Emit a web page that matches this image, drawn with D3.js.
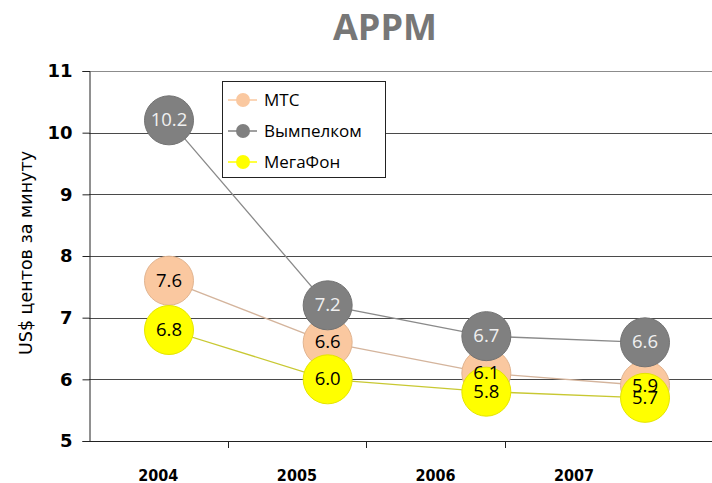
<!DOCTYPE html>
<html>
<head>
<meta charset="utf-8">
<script src="https://cdn.jsdelivr.net/npm/d3@7"></script>
<style>
  body { margin: 0; background: #fff; }
  svg { display: block; }
</style>
</head>
<body>
<div id="chart"></div>
<script>
// chart data
var years = ["2004", "2005", "2006", "2007"];
var seriesNames = ["МТС", "Вымпелком", "МегаФон"];
var mtsValues = [7.6, 6.6, 6.1, 5.9];
var vimpelValues = [10.2, 7.2, 6.7, 6.6];
var megafonValues = [6.8, 6.0, 5.8, 5.7];
var yTicks = [5, 6, 7, 8, 9, 10, 11];

var fills = ["#fac8a0", "#808080", "#ffff00"];
var strokes = ["#d4b49c", "#8a8a8a", "#c8c832"];
var labelColors = ["#000", "#f0f0f0", "#000"];

var w = 712, h = 483;
var plotLeft = 89, plotRight = 712, plotTop = 71, plotBottom = 441;

var svg = d3.select("#chart")
            .append("svg")
            .attr("width", w)
            .attr("height", h);

var series = [mtsValues, vimpelValues, megafonValues].map(function(vals, i) {
  return { name: seriesNames[i], values: vals, idx: i };
});

var y = d3.scaleLinear().domain([5, 11]).range([plotBottom, plotTop]);
// category bands for axis labels / ticks
var xBand = d3.scaleBand().domain(years).range([plotLeft, plotLeft + 4 * 138.6]);
// markers sit shifted to the right of the category labels
var xPt = d3.scalePoint().domain(years).range([169, 645]);

// title
svg.append("text")
   .attr("x", 385).attr("y", 40)
   .attr("text-anchor", "middle")
   .attr("font-family", "'Open Sans', sans-serif")
   .attr("font-weight", "bold")
   .attr("font-size", "36px")
   .attr("fill", "#777")
   .text("APPM");

// gridlines
svg.selectAll("line.grid")
   .data(yTicks.slice(1))
   .enter()
   .append("line")
   .attr("class", "grid")
   .attr("x1", plotLeft).attr("x2", plotRight)
   .attr("y1", function(d) { return Math.round(y(d)) + 0.5; })
   .attr("y2", function(d) { return Math.round(y(d)) + 0.5; })
   .attr("stroke", function(d) { return d === 11 ? "#8c8c8c" : "#4a4a4a"; })
   .attr("stroke-width", 1);

// y axis
var yAxis = d3.axisLeft(y).tickValues(yTicks).tickSize(7).tickPadding(10).tickFormat(d3.format("d"));
var gy = svg.append("g").attr("transform", "translate(" + (plotLeft + 0.5) + ",0)").call(yAxis);
gy.select(".domain").attr("stroke", "#222");
gy.selectAll(".tick line").attr("stroke", "#222");
gy.selectAll("text")
  .attr("font-family", "'DejaVu Sans', sans-serif")
  .attr("font-weight", "bold")
  .attr("font-size", "18px")
  .attr("fill", "#000");

// x axis
var xAxis = d3.axisBottom(xBand).tickSize(0).tickPadding(28);
var gx = svg.append("g").attr("transform", "translate(0," + (plotBottom + 0.5) + ")").call(xAxis);
gx.select(".domain").remove();
gx.selectAll("text")
  .attr("font-family", "'DejaVu Sans Condensed', 'DejaVu Sans', sans-serif")
  .attr("font-weight", "bold")
  .attr("font-size", "16px")
  .attr("fill", "#000");
svg.append("line")
   .attr("x1", plotLeft).attr("x2", plotRight)
   .attr("y1", plotBottom + 0.5).attr("y2", plotBottom + 0.5)
   .attr("stroke", "#222");
svg.selectAll("line.xtick")
   .data(years.slice(1))
   .enter()
   .append("line")
   .attr("class", "xtick")
   .attr("x1", function(d) { return Math.round(xBand(d)) + 0.5; })
   .attr("x2", function(d) { return Math.round(xBand(d)) + 0.5; })
   .attr("y1", plotBottom).attr("y2", plotBottom + 7)
   .attr("stroke", "#222");

// y axis title
svg.append("text")
   .attr("transform", "translate(32,253) rotate(-90)")
   .attr("text-anchor", "middle")
   .attr("font-family", "'DejaVu Sans', sans-serif")
   .attr("font-size", "17.5px")
   .attr("fill", "#000")
   .text("US$ центов за минуту");

// lines
var line = d3.line()
             .x(function(d, i) { return xPt(years[i]); })
             .y(function(d) { return y(d); });

svg.selectAll("path.series")
   .data(series)
   .enter()
   .append("path")
   .attr("class", "series")
   .attr("d", function(d) { return line(d.values); })
   .attr("fill", "none")
   .attr("stroke", function(d) { return strokes[d.idx]; })
   .attr("stroke-width", 1.3);

// markers
series.forEach(function(s) {
  svg.selectAll("circle.s" + s.idx)
     .data(s.values)
     .enter()
     .append("circle")
     .attr("class", "s" + s.idx)
     .attr("cx", function(d, i) { return xPt(years[i]); })
     .attr("cy", function(d) { return y(d); })
     .attr("r", 24.5)
     .attr("fill", fills[s.idx])
     .attr("stroke", d3.color(fills[s.idx]).darker(0.3))
     .attr("stroke-width", 1);
});

// value labels on top
series.forEach(function(s) {
  svg.selectAll("text.v" + s.idx)
     .data(s.values)
     .enter()
     .append("text")
     .attr("class", "v" + s.idx)
     .attr("x", function(d, i) { return xPt(years[i]); })
     .attr("y", function(d) { return y(d) + 6; })
     .attr("text-anchor", "middle")
     .attr("font-family", "'Open Sans', sans-serif")
     .attr("font-size", "18.5px")
     .attr("fill", labelColors[s.idx])
     .text(function(d) { return d3.format(".1f")(d); });
});

// legend
var lg = svg.append("g").attr("transform", "translate(222,81)");
lg.append("rect")
  .attr("x", 0.5).attr("y", 0.5)
  .attr("width", 163).attr("height", 96)
  .attr("fill", "#fff")
  .attr("stroke", "#222");
var items = lg.selectAll("g.item")
  .data(series)
  .enter()
  .append("g")
  .attr("class", "item")
  .attr("transform", function(d, i) { return "translate(0," + (19 + i * 31) + ")"; });
items.append("line")
  .attr("x1", 6).attr("x2", 35)
  .attr("stroke", function(d) { return fills[d.idx]; })
  .attr("stroke-width", 1.5);
items.append("circle")
  .attr("cx", 21).attr("r", 7)
  .attr("fill", function(d) { return fills[d.idx]; });
items.append("text")
  .attr("x", 42).attr("y", 6)
  .attr("font-family", "'Open Sans', sans-serif")
  .attr("font-size", "17px")
  .attr("fill", "#000")
  .text(function(d) { return d.name; });
</script>
</body>
</html>
